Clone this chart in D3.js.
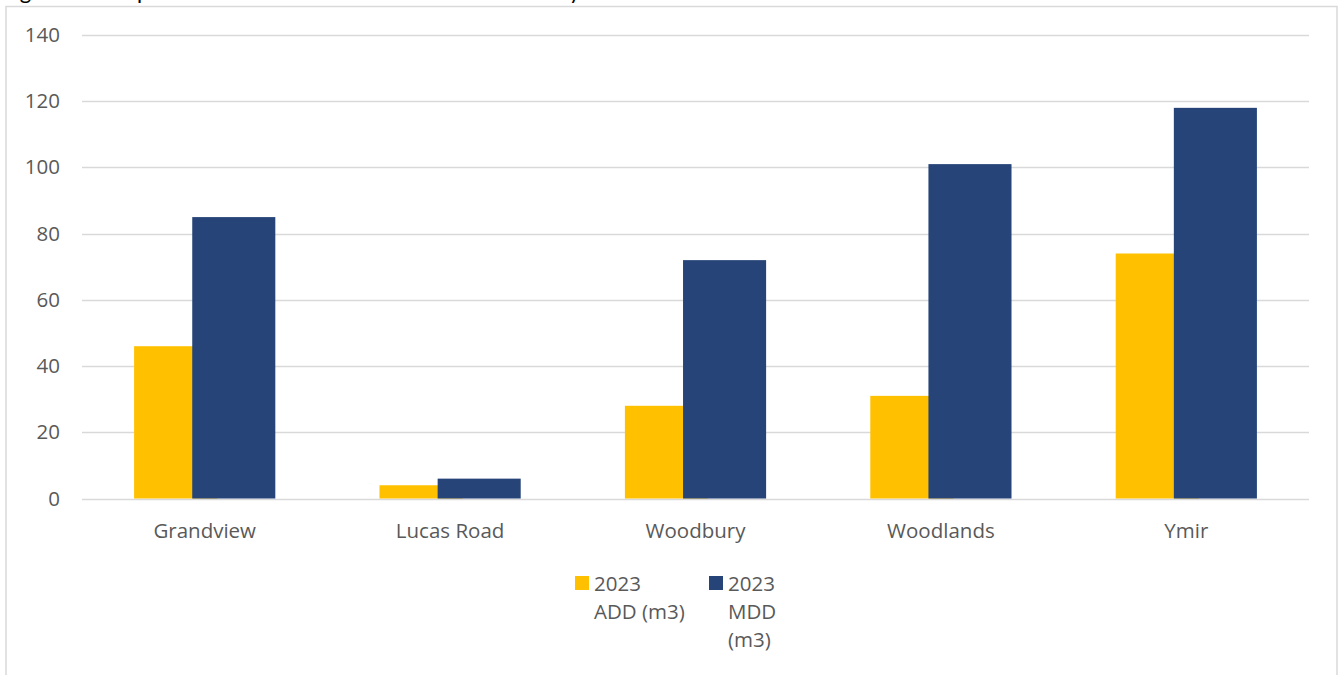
<!DOCTYPE html>
<html>
<head>
<meta charset="utf-8">
<script src="https://cdn.jsdelivr.net/npm/d3@7"></script>
<style>
  html, body { margin: 0; padding: 0; background: #fff; }
  svg { display: block; font-family: "Open Sans", Lato, sans-serif; }
</style>
</head>
<body>
<svg id="chart" width="1339" height="675"></svg>
<script>
// Facilities and 2023 demand figures (m3)
const categories = ["Grandview", "Lucas Road", "Woodbury", "Woodlands", "Ymir"];
const seriesNames = ["2023 ADD (m3)", "2023 MDD (m3)"];
const addValues = [46, 4, 28, 31, 74];
const mddValues = [85, 6, 72, 101, 118];
const yTicks = [0, 20, 40, 60, 80, 100, 120, 140];
const seriesColors = ["#FFC000", "#264478"];
const legendLines = [["2023", "ADD (m3)"], ["2023", "MDD", "(m3)"]];

const svg = d3.select("#chart");
const plot = { left: 82, right: 1309, top: 35, bottom: 498.5 };
const labelFont = "\"Open Sans\", Lato, sans-serif";
const labelSize = 20.5;
const labelColor = "#595959";

// Title line sitting above the frame (only its descenders reach the page)
svg.append("text")
  .attr("x", 2).attr("y", -1)
  .attr("font-size", 22).attr("fill", "#000")
  .attr("font-family", "Lato, sans-serif")
  .text("Figure 3: Comparison of ADD and MDD Demand for Facility");

// Chart frame
svg.append("rect")
  .attr("x", 6).attr("y", 6.5)
  .attr("width", 1331).attr("height", 700)
  .attr("fill", "none").attr("stroke", "#d9d9d9").attr("stroke-width", 1.5);

const x = d3.scaleBand().domain(categories).range([plot.left, plot.right]).paddingInner(0).paddingOuter(0);
const y = d3.scaleLinear().domain([0, 140]).range([plot.bottom, plot.top]);

// Gridlines
svg.append("g").selectAll("line").data(yTicks).join("line")
  .attr("x1", plot.left).attr("x2", plot.right)
  .attr("y1", d => Math.round(y(d)) + 0.5).attr("y2", d => Math.round(y(d)) + 0.5)
  .attr("stroke", "#d9d9d9").attr("stroke-width", 1.3);

// Y axis labels
const yAxis = d3.axisLeft(y).tickValues(yTicks).tickSize(0).tickPadding(0);
const gy = svg.append("g").attr("transform", `translate(60,0)`).call(yAxis);
gy.select(".domain").remove();
gy.selectAll("text").attr("font-size", labelSize).attr("fill", labelColor)
  .attr("font-family", labelFont);

// Bars: series overlap slightly, second series drawn on top
const bw = x.bandwidth() * 0.3385;
const overlap = bw * 0.30;
const groupW = 2 * bw - overlap;
const offset = d3.scalePoint().domain([0, 1]).range([0, bw - overlap]);
const series = [addValues, mddValues];

series.forEach((vals, si) => {
  svg.append("g").selectAll("rect").data(categories).join("rect")
    .attr("x", (c) => x(c) + (x.bandwidth() - groupW) / 2 + offset(si))
    .attr("y", (c, i) => y(vals[i]))
    .attr("width", bw)
    .attr("height", (c, i) => y(0) - y(vals[i]))
    .attr("fill", seriesColors[si]);
});

// Category labels
const xAxis = d3.axisBottom(x).tickSize(0).tickPadding(0);
const gx = svg.append("g").attr("transform", `translate(0,${plot.bottom + 39})`).call(xAxis);
gx.select(".domain").remove();
gx.selectAll("text").attr("font-size", labelSize).attr("fill", labelColor)
  .attr("font-family", labelFont).attr("dy", 0);

// Legend
const legendX = [575, 709];
legendLines.forEach((lines, i) => {
  const g = svg.append("g").attr("transform", `translate(${legendX[i]},576)`);
  g.append("rect").attr("x", 0).attr("y", 0).attr("width", 14).attr("height", 14)
    .attr("fill", seriesColors[i]);
  const t = g.append("text").attr("x", 19).attr("y", 15)
    .attr("font-size", labelSize).attr("fill", labelColor)
    .attr("font-family", labelFont);
  lines.forEach((ln, j) => {
    t.append("tspan").attr("x", 19).attr("dy", j === 0 ? 0 : 28).text(ln);
  });
});
</script>
</body>
</html>
